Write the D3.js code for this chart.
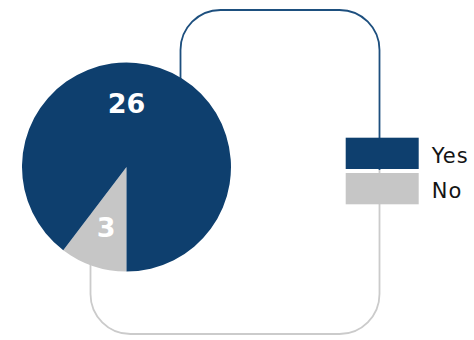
<!DOCTYPE html>
<html>
<head>
<meta charset="utf-8">
<script src="https://cdn.jsdelivr.net/npm/d3@7"></script>
<style>
  html, body { margin: 0; padding: 0; background: #ffffff; }
  svg { display: block; }
</style>
</head>
<body>
<svg id="chart" width="474" height="340"></svg>
<script>
// Survey answers
const categories = ["No", "Yes"];
const counts = [3, 26];
const legendOrder = ["Yes", "No"];

const colors = d3.scaleOrdinal()
  .domain(["Yes", "No"])
  .range(["#0e3f6e", "#c6c6c6"]);

const svg = d3.select("#chart");

// Decorative rounded frames behind the pie and legend
const frameR = 40;
function topFrame(x0, x1, y0, yEnd) {
  const p = d3.path();
  p.moveTo(x0, yEnd);
  p.lineTo(x0, y0 + frameR);
  p.arcTo(x0, y0, x0 + frameR, y0, frameR);
  p.lineTo(x1 - frameR, y0);
  p.arcTo(x1, y0, x1, y0 + frameR, frameR);
  p.lineTo(x1, yEnd);
  return p.toString();
}
function bottomFrame(x0, x1, y1, yStart) {
  const p = d3.path();
  p.moveTo(x0, yStart);
  p.lineTo(x0, y1 - frameR);
  p.arcTo(x0, y1, x0 + frameR, y1, frameR);
  p.lineTo(x1 - frameR, y1);
  p.arcTo(x1, y1, x1, y1 - frameR, frameR);
  p.lineTo(x1, yStart);
  return p.toString();
}
svg.append("path")
  .attr("d", topFrame(180.5, 379.5, 10, 170))
  .attr("fill", "none")
  .attr("stroke", "#1d4f7e")
  .attr("stroke-width", 1.8);
svg.append("path")
  .attr("d", bottomFrame(90.5, 379.5, 334, 170))
  .attr("fill", "none")
  .attr("stroke", "#cbcbcb")
  .attr("stroke-width", 1.8);

// Pie
const cx = 126.5, cy = 167, R = 104.5;
const pie = d3.pie().sort(null).value(d => d.v)
  .startAngle(Math.PI).endAngle(3 * Math.PI);
const data = categories.map((c, i) => ({ c, v: counts[i] }));
const arcs = pie(data);
const arc = d3.arc().innerRadius(0).outerRadius(R);

const g = svg.append("g").attr("transform", `translate(${cx},${cy})`);
g.selectAll("path.slice")
  .data(arcs)
  .join("path")
  .attr("class", "slice")
  .attr("d", arc)
  .attr("fill", d => colors(d.data.c));

// Value labels: small slice at its centroid, large slice near the top
const labelR = R * 0.61;
g.selectAll("text.val")
  .data(arcs)
  .join("text")
  .attr("class", "val")
  .attr("transform", d => {
    const a = (d.endAngle - d.startAngle) > Math.PI ? 0 : (d.startAngle + d.endAngle) / 2;
    const [x, y] = d3.pointRadial(a, labelR);
    return `translate(${x},${y})`;
  })
  .attr("text-anchor", "middle")
  .attr("dy", "0.36em")
  .attr("fill", "#ffffff")
  .attr("font-family", "DejaVu Sans, sans-serif")
  .attr("font-weight", 700)
  .attr("font-size", 27)
  .text(d => d.data.v);

// Legend
const legend = svg.append("g").attr("transform", "translate(345.7,137.7)");
const rowH = 35.3, swW = 73, swH = 31.3;
const rows = legend.selectAll("g.row")
  .data(legendOrder)
  .join("g")
  .attr("class", "row")
  .attr("transform", (d, i) => `translate(0,${i * rowH})`);
rows.append("rect")
  .attr("width", swW)
  .attr("height", swH)
  .attr("fill", d => colors(d));
rows.append("text")
  .attr("x", 86)
  .attr("y", 25)
  .attr("fill", "#141414")
  .attr("font-family", "DejaVu Sans, sans-serif")
  .attr("font-size", 21)
  .attr("letter-spacing", 1)
  .text(d => d);
</script>
</body>
</html>
